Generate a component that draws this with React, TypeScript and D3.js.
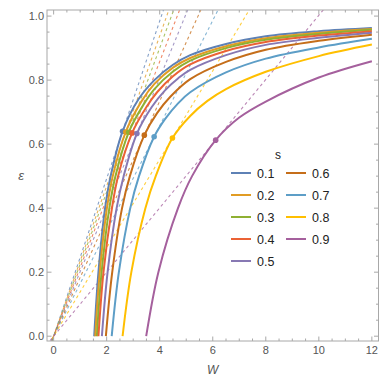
import React from "react";
import * as d3 from "d3";

const sLabels = ["0.1", "0.2", "0.3", "0.4", "0.5", "0.6", "0.7", "0.8", "0.9"];
const colors = ["#5E81B5", "#E19C24", "#8FB032", "#EB6235", "#8778B3", "#C56E1A", "#5D9EC7", "#FFBF00", "#A5609D"];

const curve01: [number, number][] = [[1.53, 0], [1.69, 0.2], [1.94, 0.4], [2.15, 0.5], [2.6, 0.64], [3.2, 0.74], [3.8, 0.8], [4.5, 0.848], [5.15, 0.878], [6.5, 0.913], [8, 0.937], [10, 0.953], [12, 0.963]];
const curve02: [number, number][] = [[1.57, 0], [1.74, 0.2], [2.01, 0.4], [2.23, 0.5], [2.72, 0.638], [3.3, 0.732], [3.8, 0.788], [4.5, 0.839], [5.15, 0.869], [6.5, 0.906], [8, 0.931], [10, 0.948], [12, 0.96]];
const curve03: [number, number][] = [[1.63, 0], [1.81, 0.2], [2.1, 0.4], [2.33, 0.5], [2.83, 0.637], [3.4, 0.725], [3.8, 0.772], [4.5, 0.827], [5.15, 0.861], [6.5, 0.9], [8, 0.926], [10, 0.944], [12, 0.957]];
const curve04: [number, number][] = [[1.69, 0], [1.88, 0.2], [2.2, 0.4], [2.43, 0.5], [2.96, 0.635], [3.5, 0.716], [3.9, 0.762], [4.5, 0.812], [5.15, 0.849], [6.5, 0.891], [8, 0.919], [10, 0.939], [12, 0.953]];
const curve05: [number, number][] = [[1.82, 0], [2.035, 0.2], [2.375, 0.4], [2.64, 0.5], [3.14, 0.633], [3.7, 0.716], [4.2, 0.768], [4.7, 0.806], [5.15, 0.832], [6.5, 0.878], [8, 0.91], [10, 0.932], [12, 0.948]];
const curve06: [number, number][] = [[1.97, 0], [2.21, 0.2], [2.58, 0.4], [2.875, 0.5], [3.42, 0.628], [3.9, 0.697], [4.4, 0.748], [5.15, 0.803], [6.5, 0.857], [8, 0.895], [10, 0.923], [12, 0.942]];
const curve07: [number, number][] = [[2.19, 0], [2.46, 0.2], [2.89, 0.4], [3.22, 0.5], [3.79, 0.623], [4.2, 0.678], [4.7, 0.728], [5.15, 0.762], [6.5, 0.824], [8, 0.867], [10, 0.902], [12, 0.929]];
const curve08: [number, number][] = [[2.6, 0], [2.93, 0.2], [3.46, 0.4], [3.85, 0.5], [4.48, 0.619], [5.15, 0.688], [5.8, 0.735], [6.5, 0.772], [8, 0.826], [10, 0.875], [12, 0.911]];
const curve09: [number, number][] = [[3.49, 0], [3.95, 0.2], [4.69, 0.4], [5.22, 0.5], [6.11, 0.6125], [7, 0.683], [8, 0.733], [10, 0.808], [12, 0.859]];
const curves = [curve01, curve02, curve03, curve04, curve05, curve06, curve07, curve08, curve09];

const dotW = [2.6, 2.72, 2.83, 2.96, 3.14, 3.42, 3.79, 4.48, 6.11];
const dotE = [0.64, 0.638, 0.637, 0.635, 0.633, 0.628, 0.623, 0.619, 0.6125];

const xTicks = [0, 2, 4, 6, 8, 10, 12];
const yTicks = [0, 0.2, 0.4, 0.6, 0.8, 1.0];

const W = 387, H = 381;
const L = 47, R = 378.5, T = 10, B = 341;

export default function App() {
  const x = d3.scaleLinear().domain([-0.25, 12.25]).range([L, R]);
  const y = d3.scaleLinear().domain([-0.015, 1.019]).range([B, T]);
  const line = d3.line<[number, number]>().x(d => x(d[0])).y(d => y(d[1])).curve(d3.curveCatmullRom.alpha(0.5));

  const xMinor = d3.range(0, 12.01, 0.5);
  const yMinor = d3.range(0, 1.001, 0.05);
  const frame = "#a8a8a8";
  const tickCol = "#555";
  const font = "'Liberation Sans', Arial, sans-serif";

  return (
    <svg width={W} height={H} style={{ position: "absolute", left: 0, top: 0, background: "#fff" }}>
      <defs>
        <clipPath id="plotclip">
          <rect x={L} y={T} width={R - L} height={B - T} />
        </clipPath>
      </defs>
      <g clipPath="url(#plotclip)">
        {dotW.map((w, i) => {
          const k = dotE[i] / w;
          return (
            <line key={"d" + i} x1={x(-1)} y1={y(-k)} x2={x(13)} y2={y(13 * k)}
              stroke={colors[i]} strokeOpacity={0.75} strokeWidth={1.1} strokeDasharray="3 3" />
          );
        })}
        {curves.map((c, i) => (
          <path key={"c" + i} d={line(c) || ""} fill="none" stroke={colors[i]} strokeWidth={2} />
        ))}
        {dotW.map((w, i) => (
          <circle key={"p" + i} cx={x(w)} cy={y(dotE[i])} r={2.8} fill={colors[i]} />
        ))}
      </g>
      <rect x={L} y={T} width={R - L} height={B - T} fill="none" stroke={frame} strokeWidth={1} />
      {xMinor.map((v, i) => {
        const major = Math.abs(v % 2) < 1e-6;
        const len = major ? 4.5 : 2.5;
        return (
          <g key={"xt" + i}>
            <line x1={x(v)} x2={x(v)} y1={B} y2={B - len} stroke={frame} />
            <line x1={x(v)} x2={x(v)} y1={T} y2={T + len} stroke={frame} />
          </g>
        );
      })}
      {yMinor.map((v, i) => {
        const major = Math.abs((v * 5) - Math.round(v * 5)) < 1e-6;
        const len = major ? 4.5 : 2.5;
        return (
          <g key={"yt" + i}>
            <line x1={L} x2={L + len} y1={y(v)} y2={y(v)} stroke={frame} />
            <line x1={R} x2={R - len} y1={y(v)} y2={y(v)} stroke={frame} />
          </g>
        );
      })}
      {xTicks.map(v => (
        <text key={"xl" + v} x={x(v)} y={354} textAnchor="middle" fontFamily={font} fontSize={11} fill={tickCol}>{v}</text>
      ))}
      {yTicks.map(v => (
        <text key={"yl" + v} x={44} y={y(v) + 4} textAnchor="end" fontFamily={font} fontSize={11} fill={tickCol}>{v.toFixed(1)}</text>
      ))}
      <text x={(L + R) / 2} y={374} textAnchor="middle" fontFamily={font} fontStyle="italic" fontSize={12} fill={tickCol}>W</text>
      <text x={21} y={(T + B) / 2 + 4} textAnchor="middle" fontFamily={font} fontStyle="italic" fontSize={13} fill={tickCol}>ε</text>
      <text x={278} y={159} textAnchor="middle" fontFamily={font} fontSize={12} fill="#222">s</text>
      {sLabels.map((s, i) => {
        const col = i < 5 ? 0 : 1;
        const row = i < 5 ? i : i - 5;
        const lx = col === 0 ? 231 : 286;
        const ly = 173 + row * 22;
        return (
          <g key={"lg" + i}>
            <line x1={lx} x2={lx + 20} y1={ly} y2={ly} stroke={colors[i]} strokeWidth={2} />
            <text x={lx + 26} y={ly + 4.5} fontFamily={font} fontSize={12.5} fill="#222">{s}</text>
          </g>
        );
      })}
    </svg>
  );
}
